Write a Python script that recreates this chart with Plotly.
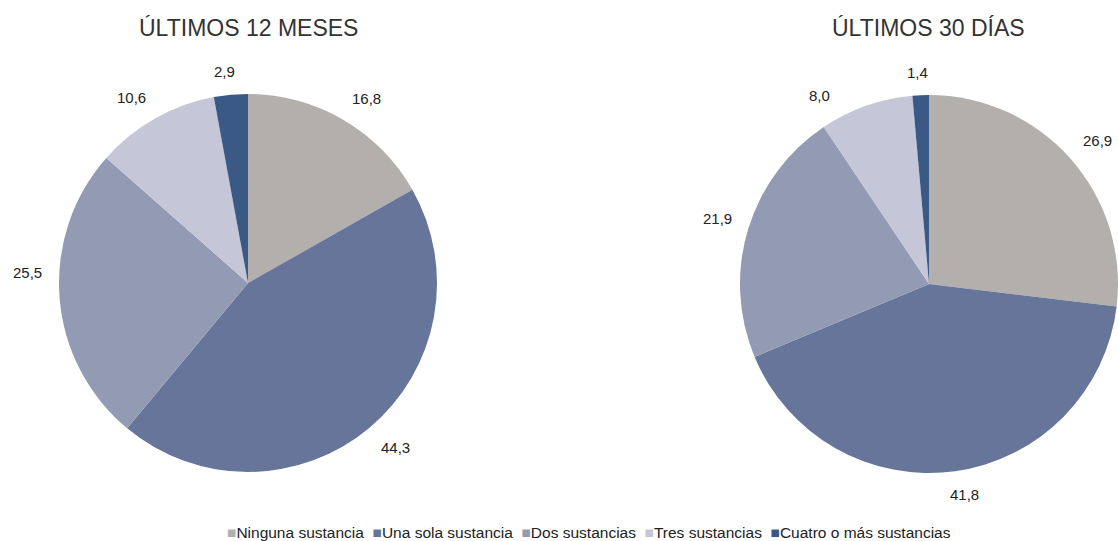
import math
import plotly.graph_objects as go

W, H = 1118, 541

categories = ["Ninguna sustancia", "Una sola sustancia", "Dos sustancias",
              "Tres sustancias", "Cuatro o más sustancias"]
values_12m = [16.8, 44.3, 25.5, 10.6, 2.9]
values_30d = [26.9, 41.8, 21.9, 8.0, 1.4]
titles = ["ÚLTIMOS 12 MESES", "ÚLTIMOS 30 DÍAS"]

colors = ["#b3afad", "#68759a", "#939ab3", "#c5c6d7", "#3a5a85"]

FONT = "Liberation Sans, Arial, sans-serif"

# pie geometry (pixels)
R = 189
centers = [(248, 283), (929, 284)]
# small manual label-placement nudges (degrees), as in the original layout
label_nudge = {(0, 2): 7.0, (1, 3): -8.0}
LBL_W, LBL_H, GAP = 31, 14, 16


def fx(px):
    return px / W


def fy(py):
    return 1 - py / H


def domain(cx, cy):
    return dict(x=[fx(cx - R), fx(cx + R)], y=[fy(cy + R), fy(cy - R)])


def clamp(v):
    return max(-1.0, min(1.0, v))


fig = go.Figure()
annotations = []
for k, (vals, title) in enumerate(zip([values_12m, values_30d], titles)):
    cx, cy = centers[k]
    fig.add_trace(go.Pie(
        labels=categories, values=vals, sort=False, direction="clockwise",
        rotation=0, marker=dict(colors=colors, line=dict(width=0)),
        textinfo="none", hoverinfo="label+value", domain=domain(cx, cy),
        showlegend=False,
    ))
    total = sum(vals)
    cum = 0.0
    for i, v in enumerate(vals):
        mid = (cum + v / 2) / total * 360.0 + label_nudge.get((k, i), 0.0)
        cum += v
        a = math.radians(mid)
        s, c = math.sin(a), math.cos(a)
        d = R + GAP
        px = cx + d * s + clamp(s / 0.3) * LBL_W / 2
        py = cy - d * c - clamp(c / 0.3) * LBL_H / 2
        annotations.append(dict(
            x=fx(px), y=fy(py), xref="paper", yref="paper",
            text=f"{v:.1f}".replace(".", ","), showarrow=False,
            font=dict(size=15, color="#222222", family=FONT),
            xanchor="center", yanchor="middle"))
    annotations.append(dict(
        x=fx(cx), y=fy(28), xref="paper", yref="paper", text=title,
        showarrow=False, font=dict(size=23, color="#333333", family=FONT),
        xanchor="center", yanchor="middle"))

legend_text = "&nbsp;&nbsp;".join(
    f'<span style="color:{col}">■</span>{cat}'
    for cat, col in zip(categories, colors))
annotations.append(dict(
    x=fx(225), y=fy(532), xref="paper", yref="paper", text=legend_text,
    showarrow=False, font=dict(size=15.5, color="#222222", family=FONT),
    xanchor="left", yanchor="middle"))

fig.update_layout(
    width=W, height=H, margin=dict(l=0, r=0, t=0, b=0),
    paper_bgcolor="white", plot_bgcolor="white",
    annotations=annotations, showlegend=False,
    font=dict(family=FONT),
)

fig.write_html(
    "out.html",
    config={"displayModeBar": False},
    post_script="document.body.style.margin='0';document.body.style.overflow='hidden';",
)
